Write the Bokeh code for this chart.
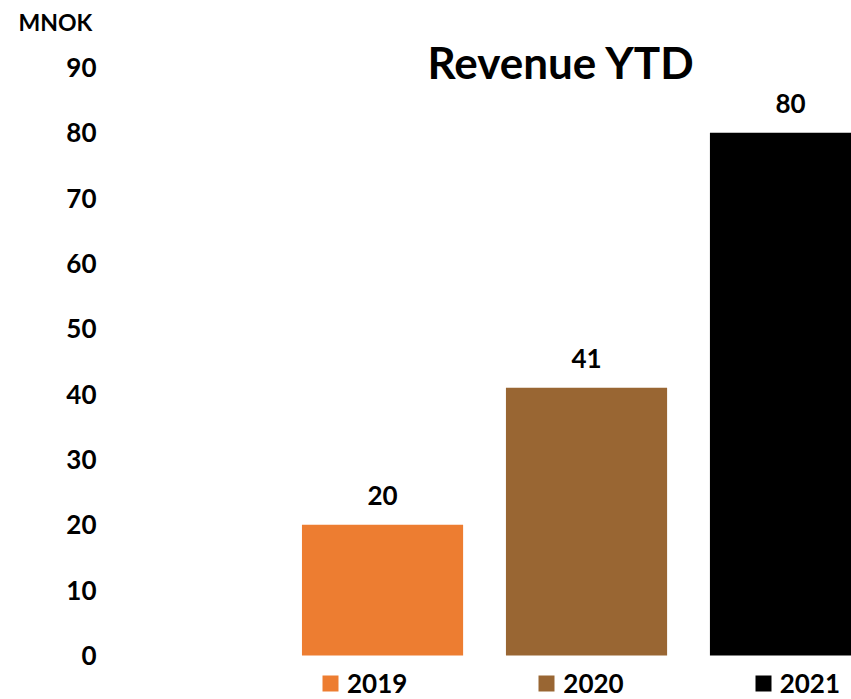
from bokeh.plotting import figure
from bokeh.models import ColumnDataSource, FixedTicker, LabelSet, Label, Range1d
from bokeh.core.properties import value
from bokeh.embed import file_html
from bokeh.resources import INLINE

# Data
years = ["2019", "2020", "2021"]
revenue = [20, 41, 80]
colors = ["#ED7D31", "#996633", "#000000"]
positions = [1, 2, 3]
y_ticks = [0, 10, 20, 30, 40, 50, 60, 70, 80, 90]
title_text = "Revenue YTD"
unit_text = "MNOK"

FONT = "Lato"

source = ColumnDataSource(dict(
    x=positions, top=revenue, year=years, color=colors,
    label=[str(v) for v in revenue],
))

p = figure(width=851, height=699, output_backend="svg", toolbar_location=None,
           x_axis_location=None, x_range=Range1d(-0.363, 3.299),
           y_range=Range1d(-6.735, 94.90),
           min_border_left=104, min_border_right=0, min_border_top=35,
           min_border_bottom=0)
p.outline_line_color = None
p.background_fill_color = "white"
p.border_fill_color = "white"
p.xgrid.visible = False
p.ygrid.visible = False

# unit text as the figure title, top-left
p.title.text = unit_text
p.title.align = "left"
p.title.offset = -86
p.title.standoff = 0
p.title.text_font = FONT
p.title.text_font_style = "bold"
p.title.text_font_size = "23px"
p.title.text_color = "black"

p.vbar(x="x", top="top", width=0.79, bottom=0, color="color",
       line_color=None, source=source, legend_field="year")

yax = p.yaxis[0]
yax.ticker = FixedTicker(ticks=y_ticks)
yax.axis_line_color = None
yax.major_tick_line_color = None
yax.minor_tick_line_color = None
yax.major_tick_out = 0
yax.major_tick_in = 0
yax.major_label_standoff = 8
yax.major_label_text_font = FONT
yax.major_label_text_font_style = "bold"
yax.major_label_text_font_size = "26px"
yax.major_label_text_color = "black"

labels = LabelSet(x="x", y="top", text="label", source=source,
                  text_align="center", text_baseline="alphabetic", y_offset=20,
                  text_font=value(FONT), text_font_style="bold",
                  text_font_size="26px", text_color="black")
p.add_layout(labels)

title = Label(x=1.877, y=90.9, text=title_text, text_align="center",
              text_baseline="alphabetic", text_font=FONT, text_font_style="bold",
              text_font_size="44px", text_color="black")
p.add_layout(title)

leg = p.legend[0]
leg.orientation = "horizontal"
leg.location = (216, 0)
leg.border_line_color = None
leg.background_fill_alpha = 0
leg.padding = 0
leg.margin = 0
leg.spacing = 129
leg.glyph_width = 20
leg.glyph_height = 20
leg.label_standoff = 7
leg.label_text_font = FONT
leg.label_text_font_style = "bold"
leg.label_text_font_size = "26px"
leg.label_text_color = "black"

open("out.html", "w").write(file_html(p, INLINE))
